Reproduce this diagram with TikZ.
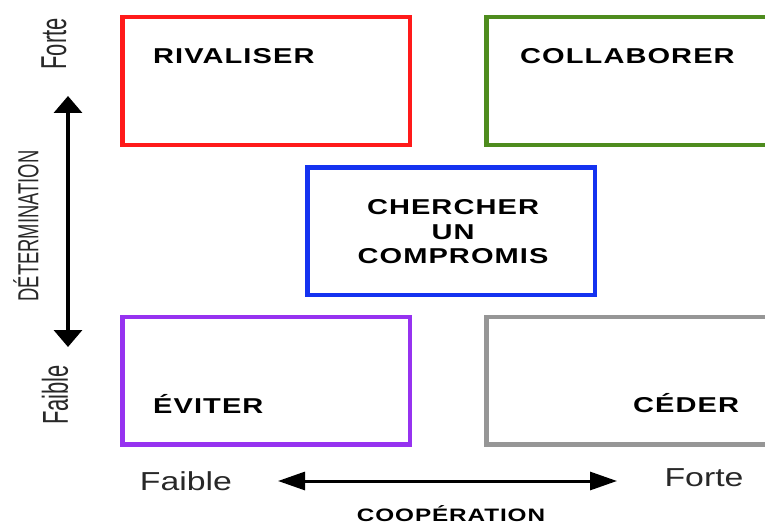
\documentclass[tikz,border=0pt]{standalone}
\usepackage{fontspec}
\setmainfont{Liberation Sans}
\newfontfamily\lblfont{Liberation Sans}[FakeStretch=1.35,LetterSpace=5]
\newfontfamily\axfont{Liberation Sans}[FakeStretch=1.3]
\newfontfamily\vfont{Liberation Sans}[FakeStretch=0.61]
\newfontfamily\detfont{Liberation Sans}[FakeStretch=0.635]
\usetikzlibrary{arrows.meta}
\definecolor{cred}{RGB}{255,26,26}
\definecolor{cgreen}{RGB}{78,140,30}
\definecolor{cblue}{RGB}{20,50,240}
\definecolor{cpurple}{RGB}{150,50,240}
\definecolor{cgray}{RGB}{150,150,150}
\definecolor{ctext}{RGB}{40,40,40}
\tikzset{
  quad/.style={draw, line width=4.5pt, minimum width=287.5pt, minimum height=127.5pt, inner sep=0pt},
  boxlabel/.style={inner sep=0pt, text=black, font=\lblfont\bfseries\fontsize{21.5}{24.5}\selectfont},
  axlabel/.style={inner sep=0pt, text=ctext, font=\axfont\fontsize{26}{30}\selectfont},
  vlabel/.style={inner sep=0pt, text=ctext, rotate=90, font=\vfont\fontsize{36}{40}\selectfont},
  axisarrow/.style={line width=3.5pt, black}
}
\begin{document}
\begin{tikzpicture}[x=1pt,y=-1pt]
\useasboundingbox (0,0) rectangle (765,524);
\clip (0,0) rectangle (765,524);
% boxes
\node[quad, draw=cred] (rivaliser) at (266,81) {};
\node[quad, draw=cgreen] (collaborer) at (630,81) {};
\node[quad, draw=cblue] (compromis) at (451,231) {};
\node[quad, draw=cpurple] (eviter) at (266,380.5) {};
\node[quad, draw=cgray] (ceder) at (630,380.75) {};
% box labels
\node[boxlabel, anchor=base west] (trivaliser) at (153,64) {RIVALISER};
\node[boxlabel, anchor=base west] (tcollaborer) at (520,64) {COLLABORER};
\node[boxlabel, align=center, anchor=center] (tcompromis) at (453,232) {CHERCHER\\UN\\COMPROMIS};
\node[boxlabel, anchor=base west] (teviter) at (153,413) {ÉVITER};
\node[boxlabel, anchor=base west] (tceder) at (633,412) {CÉDER};
% vertical axis
\node[vlabel] (vforte) at (54,44) {Forte};
\node[vlabel] (vfaible) at (55,395) {Faible};
\node[inner sep=0pt, text=ctext, rotate=90, font=\detfont\fontsize{29}{32}\selectfont] (determ) at (26,226) {DÉTERMINATION};
\coordinate (vtop) at (68,96);
\coordinate (vbot) at (68,347);
\draw[axisarrow, {Triangle[width=28pt,length=17pt]}-{Triangle[width=28pt,length=17pt]}] (vtop) -- (vbot);
% horizontal axis
\node[axlabel] (hfaible) at (186,481) {Faible};
\node[axlabel] (hforte) at (704,478) {Forte};
\node[inner sep=0pt, text=black, font=\lblfont\bfseries\fontsize{18}{20}\selectfont, anchor=base] (coop) at (451,521.5) {COOPÉRATION};
\coordinate (hleft) at (278,481);
\coordinate (hright) at (617,481);
\draw[axisarrow, line width=3pt, {Triangle[width=18pt,length=27pt]}-{Triangle[width=18pt,length=27pt]}] (hleft) -- (hright);
\end{tikzpicture}
\end{document}
